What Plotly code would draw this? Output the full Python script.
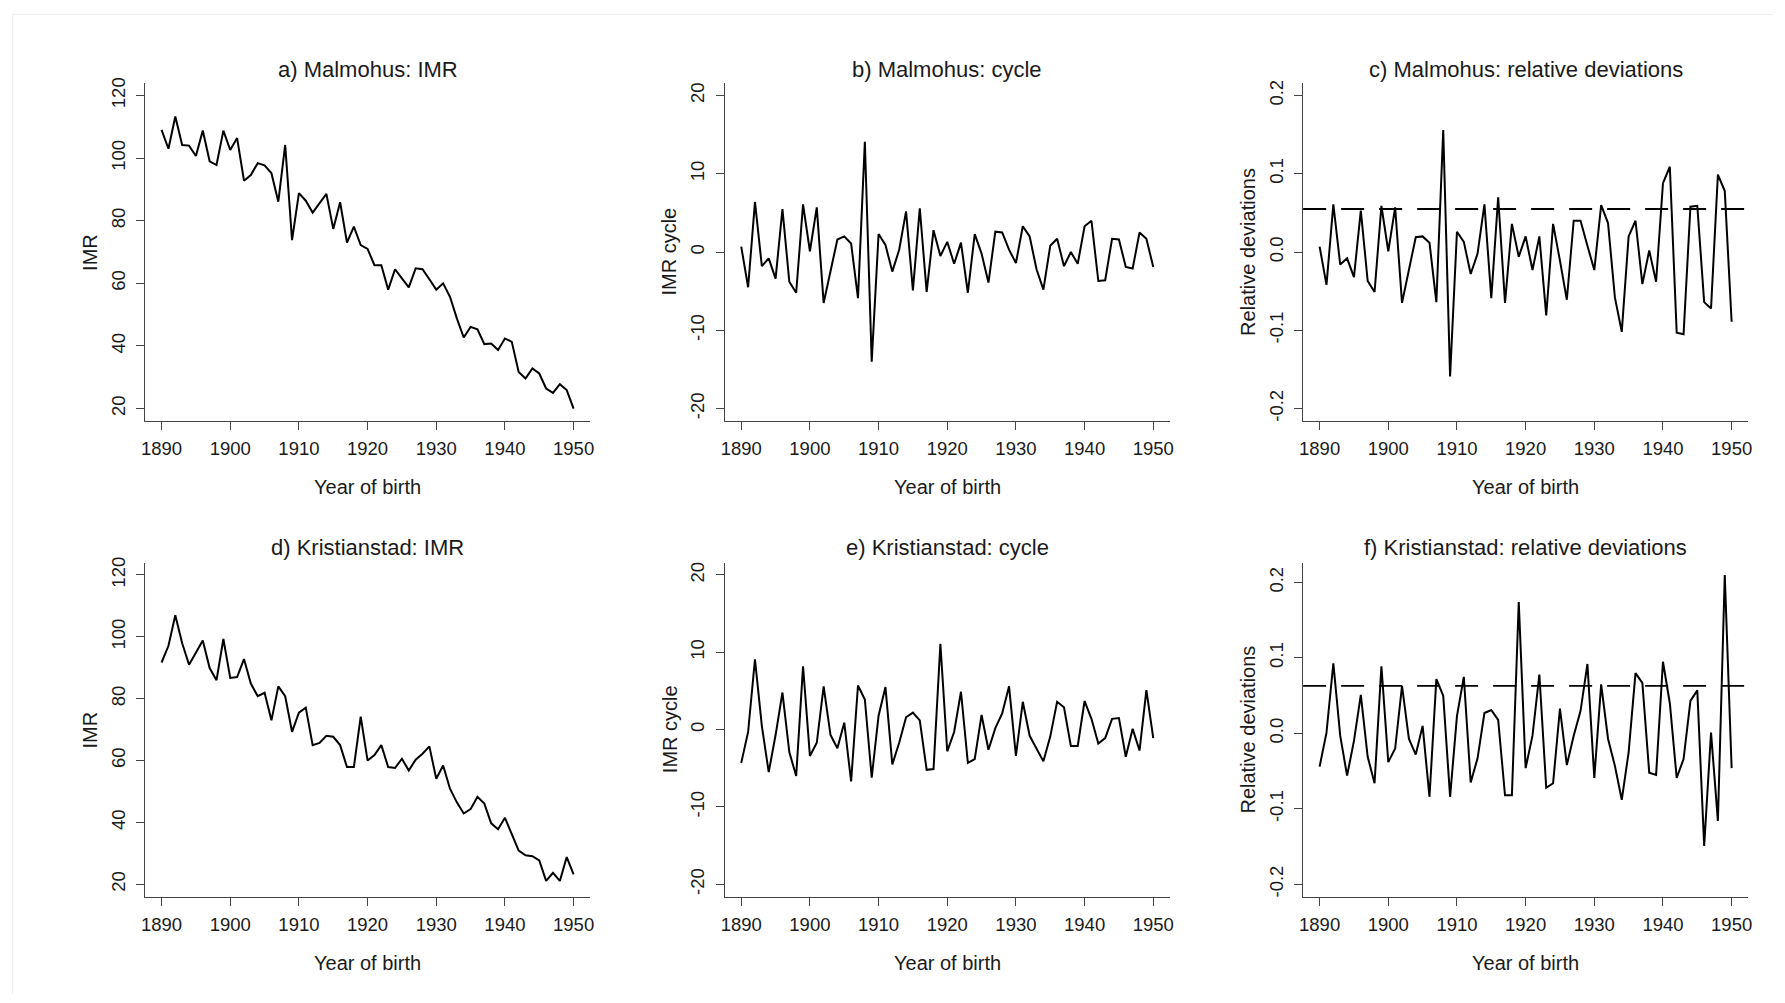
import plotly.graph_objects as go

years = list(range(1890, 1951))

malmo_imr = [109, 103, 113.3, 104.2, 104, 100.7, 108.8, 99, 97.8, 108.8,
             102.6, 106.4, 92.8, 94.6, 98.4, 97.7, 95.2, 86.1, 104.2, 73.8,
             88.8, 86.4, 82.6, 85.6, 88.6, 77.4, 85.9, 73, 78.1, 72.2,
             71, 65.8, 65.8, 58, 64.5, 61.6, 58.7, 64.8, 64.5, 61.3,
             58, 60, 55.7, 48.8, 42.7, 46.1, 45.3, 40.6, 40.8, 38.7,
             42.4, 41.3, 31.7, 29.6, 32.8, 31.2, 26.4, 25, 27.8, 25.9,
             20]
malmo_cycle = [0.7, -4.5, 6.4, -1.8, -0.8, -3.4, 5.5, -3.8, -5.2, 6.1,
               0.1, 5.7, -6.5, -2.5, 1.6, 2.0, 1.1, -5.9, 14.1, -14.0,
               2.3, 0.9, -2.5, 0.3, 5.2, -4.9, 5.6, -5.1, 2.8, -0.5,
               1.3, -1.5, 1.2, -5.2, 2.3, -0.2, -3.9, 2.6, 2.5, 0.3,
               -1.4, 3.3, 2.0, -2.2, -4.8, 0.8, 1.7, -1.8, 0.0, -1.5,
               3.3, 4.0, -3.7, -3.6, 1.7, 1.6, -1.9, -2.1, 2.5, 1.7,
               -1.9]
malmo_rel = [0.007, -0.042, 0.061, -0.016, -0.008, -0.032, 0.053, -0.037, -0.051, 0.059,
             0.001, 0.057, -0.065, -0.025, 0.019, 0.020, 0.012, -0.064, 0.156, -0.159,
             0.026, 0.013, -0.028, -0.002, 0.061, -0.059, 0.070, -0.065, 0.036, -0.006,
             0.020, -0.023, 0.020, -0.081, 0.036, -0.011, -0.061, 0.040, 0.040, 0.008,
             -0.023, 0.060, 0.037, -0.058, -0.102, 0.020, 0.040, -0.041, 0.002, -0.038,
             0.088, 0.109, -0.103, -0.105, 0.058, 0.059, -0.064, -0.072, 0.099, 0.078,
             -0.089]
malmo_threshold = 0.055

krist_imr = [91.7, 97.1, 107, 97.9, 91, 94.7, 98.8, 89.9, 86, 99.3,
             86.7, 87, 92.8, 84.9, 80.8, 81.9, 73, 84, 80.8, 69.3,
             75.5, 77.1, 65, 65.7, 68, 67.7, 65, 57.9, 57.9, 74.2,
             60, 61.8, 65, 57.9, 57.6, 60.6, 56.8, 60.3, 62.2, 64.6,
             54.1, 58.4, 50.9, 46.5, 42.9, 44.3, 48.3, 46.1, 39.7, 37.8,
             41.5, 36.2, 30.9, 29.4, 29.1, 27.7, 21.1, 23.7, 21.1, 28.8,
             23.2]
krist_cycle = [-4.3, -0.3, 9.1, 0.5, -5.5, -0.7, 4.8, -2.9, -6.0, 8.2,
               -3.4, -1.7, 5.6, -0.7, -2.4, 0.9, -6.7, 5.7, 3.9, -6.2,
               1.8, 5.5, -4.5, -1.7, 1.6, 2.2, 1.2, -5.2, -5.1, 11.1,
               -2.8, -0.3, 4.9, -4.3, -3.8, 1.9, -2.6, 0.2, 2.1, 5.6,
               -3.4, 3.6, -0.8, -2.4, -4.1, -0.9, 3.6, 2.9, -2.1, -2.1,
               3.7, 1.4, -1.8, -1.1, 1.4, 1.5, -3.5, 0.1, -2.7, 5.1,
               -1.1]
krist_rel = [-0.044, 0.001, 0.093, -0.003, -0.056, -0.010, 0.051, -0.031, -0.066, 0.089,
             -0.038, -0.020, 0.063, -0.007, -0.028, 0.010, -0.084, 0.072, 0.050, -0.084,
             0.023, 0.075, -0.065, -0.033, 0.027, 0.031, 0.018, -0.082, -0.082, 0.174,
             -0.046, -0.003, 0.078, -0.072, -0.066, 0.033, -0.042, -0.003, 0.030, 0.092,
             -0.059, 0.065, -0.007, -0.043, -0.088, -0.025, 0.080, 0.067, -0.052, -0.055,
             0.095, 0.040, -0.059, -0.034, 0.043, 0.057, -0.149, 0.001, -0.116, 0.21,
             -0.046]
krist_threshold = 0.063

titles = ["a) Malmohus: IMR", "b) Malmohus: cycle", "c) Malmohus: relative deviations",
          "d) Kristianstad: IMR", "e) Kristianstad: cycle", "f) Kristianstad: relative deviations"]
ytitles = ["IMR", "IMR cycle", "Relative deviations"] * 2
xtitle = "Year of birth"
xticks = [1890, 1900, 1910, 1920, 1930, 1940, 1950]
imr_ticks = [20, 40, 60, 80, 100, 120]
cyc_ticks = [-20, -10, 0, 10, 20]
cyc_text = ["-20", "-10", "0", "10", "20"]
rel_ticks = [-0.2, -0.1, 0.0, 0.1, 0.2]
rel_text = ["-0.2", "-0.1", "0.0", "0.1", "0.2"]

series = [malmo_imr, malmo_cycle, malmo_rel, krist_imr, krist_cycle, krist_rel]
yranges = [[16, 124], [-21.6, 21.6], [-0.216, 0.216],
           [16, 124], [-21.6, 21.6], [-0.2164, 0.2264]]
yticks = [(imr_ticks, [str(v) for v in imr_ticks]), (cyc_ticks, cyc_text), (rel_ticks, rel_text)] * 2

# page offset (body margin) compensation
OFF = 8
W, H = 1785 - 2 * OFF, 1003 - 2 * OFF
lefts = [141.7, 724.0, 1305.0]
pw = 447.0
row_dy = [-4.5, -1.5]
rows = [(82 + row_dy[0], 422.5 + row_dy[0]), (562 + row_dy[1], 898.5 + row_dy[1])]
title_y = [68.3 + row_dy[0], 546.7 + row_dy[1]]
xtitle_y = [489 + row_dy[0], 965 + row_dy[1]]


def px(x):
    return (x - OFF) / W


def py(y):
    return 1 - (y - OFF) / H


FONT = "Arial, 'Liberation Sans', sans-serif"
TXT = "#1a1a1a"
AX = "#444444"

fig = go.Figure()
layout = dict(width=W, height=H, margin=dict(l=0, r=0, t=0, b=0),
              paper_bgcolor="white", plot_bgcolor="white", showlegend=False,
              font=dict(family=FONT, color=TXT, size=18))
annotations = []
shapes = []

for i in range(6):
    r, c = divmod(i, 3)
    n = i + 1
    sfx = "" if n == 1 else str(n)
    x0 = lefts[c]; x1 = x0 + pw
    y0, y1 = rows[r]
    fig.add_trace(go.Scatter(x=years, y=series[i], mode="lines",
                             line=dict(color="black", width=2),
                             xaxis="x" + sfx, yaxis="y" + sfx))
    layout["xaxis" + sfx] = dict(
        domain=[px(x0), px(x1)], anchor="y" + sfx, range=[1887.6, 1952.4],
        tickvals=xticks, ticktext=[str(v) for v in xticks],
        showline=True, linecolor=AX, linewidth=1.4, ticks="outside", ticklen=8,
        tickwidth=1.4, tickcolor=AX, showgrid=False, zeroline=False,
        tickfont=dict(size=18.5, family=FONT, color=TXT), ticklabelstandoff=3)
    tv, tt = yticks[i]
    layout["yaxis" + sfx] = dict(
        domain=[py(y1), py(y0)], anchor="x" + sfx, range=yranges[i],
        tickvals=tv, ticktext=tt, tickangle=-90,
        showline=True, linecolor=AX, linewidth=1.4, ticks="outside", ticklen=8,
        tickwidth=1.4, tickcolor=AX, showgrid=False, zeroline=False,
        tickfont=dict(size=18.5, family=FONT, color=TXT), ticklabelstandoff=4)
    cx = (x0 + x1) / 2
    annotations.append(dict(text=titles[i], x=px(cx), y=py(title_y[r]), xref="paper", yref="paper",
                            xanchor="center", yanchor="middle", showarrow=False,
                            font=dict(size=22, family=FONT, color=TXT)))
    annotations.append(dict(text=xtitle, x=px(cx), y=py(xtitle_y[r]), xref="paper", yref="paper",
                            xanchor="center", yanchor="middle", showarrow=False,
                            font=dict(size=20, family=FONT, color=TXT)))
    annotations.append(dict(text=ytitles[i], x=px(x0 - 55.5), y=py((y0 + y1) / 2),
                            xref="paper", yref="paper", textangle=-90,
                            xanchor="center", yanchor="middle", showarrow=False,
                            font=dict(size=20, family=FONT, color=TXT)))

for n, thr in [(3, malmo_threshold), (6, krist_threshold)]:
    shapes.append(dict(type="line", xref="x%d domain" % n, x0=0, x1=1,
                       yref="y%d" % n, y0=thr, y1=thr,
                       line=dict(color="black", width=1.8, dash="23px,15px")))

# faint frame at top/left of the picture
shapes.append(dict(type="line", xref="paper", yref="paper", x0=px(8.5), x1=1, y0=py(8.5), y1=py(8.5),
                   line=dict(color="#eeeeee", width=1)))
shapes.append(dict(type="line", xref="paper", yref="paper", x0=px(8.5), x1=px(8.5), y0=0, y1=py(8.5),
                   line=dict(color="#eeeeee", width=1)))

layout["annotations"] = annotations
layout["shapes"] = shapes
fig.update_layout(**layout)
fig.write_html("out.html")
